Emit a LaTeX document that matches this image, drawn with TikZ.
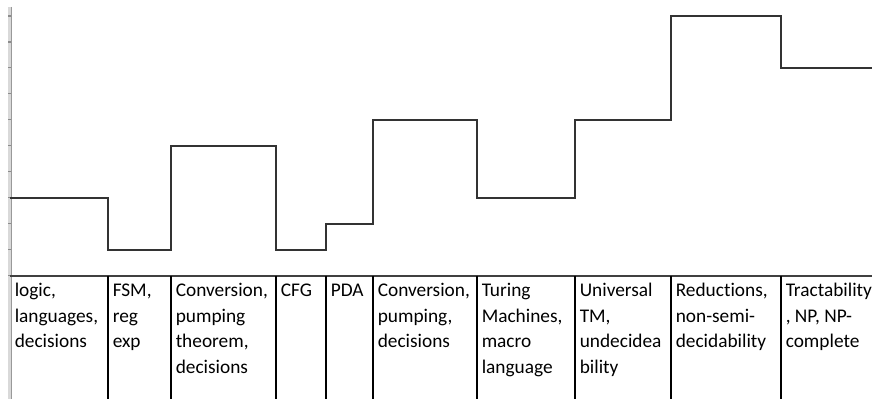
\documentclass[tikz,border=0pt]{standalone}
\usepackage{fontspec}
\setmainfont[Ligatures=NoCommon]{Carlito}
\newcommand\cellstrut{\rule{0pt}{11pt}}
\begin{document}
\begin{tikzpicture}[
x=0.75pt, y=-0.75pt,
every node/.style={anchor=north west, align=left, inner sep=0pt, font=\fontsize{14.5}{19.3}\selectfont},
stepline/.style={draw=black!80, line width=1pt},
cellline/.style={draw=black, line width=0.8pt}
]
\useasboundingbox (0,0) rectangle (872,399);
% axis
\fill[black!15] (8,7) rectangle (12,399);
\draw[black!40, line width=0.6pt] (11.6,7) -- (11.6,399);
\foreach \k in {0,...,10}
  \draw[black!45, line width=0.8pt] (8,16+25.97*\k) -- (11,16+25.97*\k);
% steps
\draw[stepline] (10,198) -| (108,250) -| (171,146) -| (276,250) -| (326,224)
  -| (373,120) -| (477,198) -| (575,120) -| (671,16) -| (781,68) -- (872,68);
% table
\draw[draw=black!75, line width=0.8pt] (10,276) -- (872,276);
\foreach \x/\txt [count=\i] in {
  10/{logic,\\languages,\\decisions},
  108/{FSM,\\reg\\exp},
  171/{Conversion,\\pumping\\theorem,\\decisions},
  276/{CFG},
  326/{PDA},
  373/{Conversion,\\pumping,\\decisions},
  477/{Turing\\Machines,\\macro\\language},
  575/{Universal\\TM,\\undecidea\\bility},
  671/{Reductions,\\non-semi-\\decidability},
  781/{Tractability\\, NP, NP-\\complete}}
{
  \coordinate (col\i) at (\x,276);
  \node (cell\i) at (\x+4.5,296-14.667) {\cellstrut\txt};
  \ifnum\i>1 \draw[cellline] (col\i) -- (\x,399); \fi
}
\end{tikzpicture}
\end{document}
